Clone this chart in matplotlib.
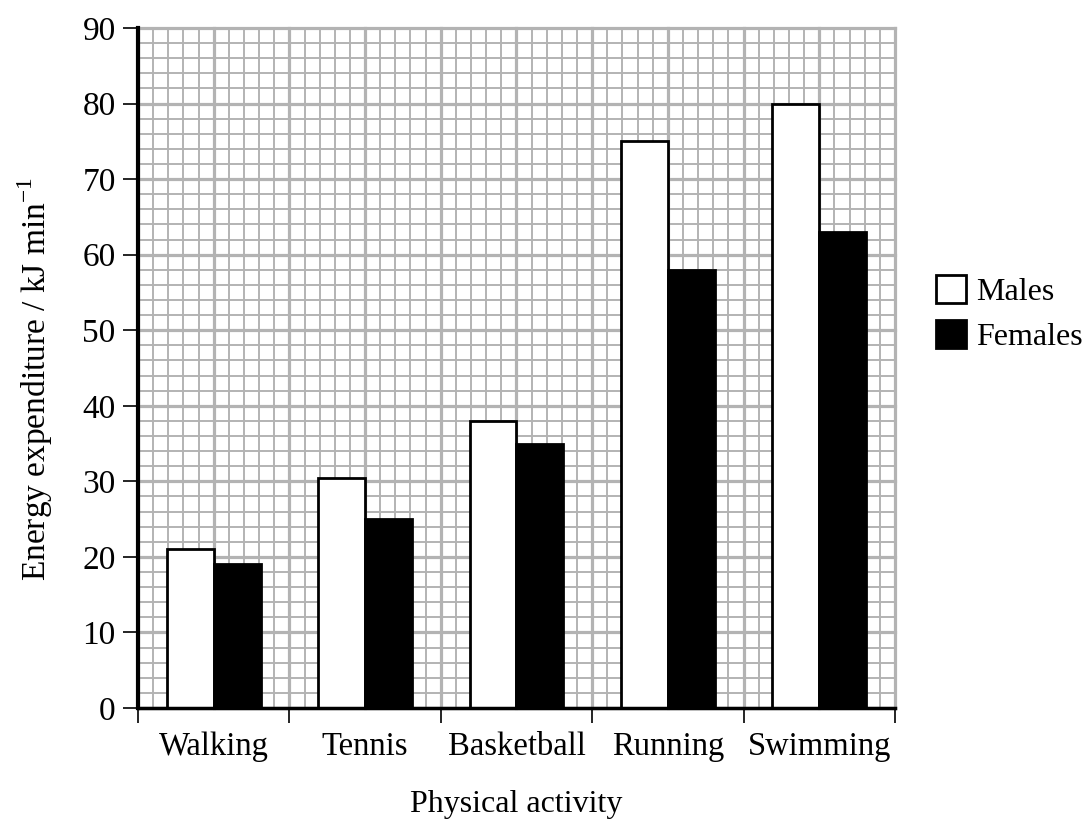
import numpy as np
import matplotlib.pyplot as plt
from matplotlib.patches import Patch

activities = ["Walking", "Tennis", "Basketball", "Running", "Swimming"]
males = [21, 30.5, 38, 75, 80]
females = [19, 25, 35, 58, 63]

plt.rcParams['font.family'] = ['Liberation Serif', 'DejaVu Serif']
plt.rcParams['mathtext.fontset'] = 'custom'
plt.rcParams['mathtext.rm'] = 'Liberation Serif'

fig = plt.figure(figsize=(10.88, 8.26), dpi=100)
ax = fig.add_axes([0.1268, 0.1429, 0.8226 - 0.1268, 0.9661 - 0.1429])

ax.set_xlim(-0.5, 4.5)
ax.set_ylim(0, 90)

grid_col = "#b3b3b3"
# graph-paper grid
for v in np.arange(-0.5, 4.51, 0.1):
    major = abs(v * 2 - round(v * 2)) < 1e-6
    ax.axvline(v, color=grid_col, lw=2.3 if major else 1.4, zorder=0, clip_on=False)
for v in range(0, 91, 2):
    ax.axhline(v, color=grid_col, lw=2.3 if v % 10 == 0 else 1.4, zorder=0, clip_on=False)

x = np.arange(len(activities))
w = 0.31
ax.bar(x - w / 2, males, w, color="white", edgecolor="black", linewidth=2, zorder=3)
ax.bar(x + w / 2, females, w, color="black", edgecolor="black", linewidth=2, zorder=3)

for side in ["top", "right"]:
    ax.spines[side].set_visible(False)
ax.spines["left"].set_linewidth(3)
ax.spines["bottom"].set_linewidth(2.5)
ax.spines["left"].set_zorder(5)
ax.spines["bottom"].set_zorder(5)

ax.set_yticks(range(0, 91, 10))
ax.tick_params(axis="y", length=11, width=1.2, pad=5, labelsize=24)
ax.set_xticks(np.arange(-0.5, 4.6, 1))
ax.set_xticklabels([])
ax.tick_params(axis="x", which="major", length=11, width=1.2)
ax.set_xticks(x, labels=activities, minor=True)
ax.tick_params(axis="x", which="minor", length=0, pad=17, labelsize=23.5)

ax.set_xlabel("Physical activity", fontsize=23, labelpad=20)
ax.set_ylabel("Energy expenditure / kJ min$^{-1}$", fontsize=24)
ax.yaxis.set_label_coords(-0.11, 0.484)

handles = [Patch(facecolor="white", edgecolor="black", linewidth=2),
           Patch(facecolor="black", edgecolor="black", linewidth=2)]
ax.legend(handles, ["Males", "Females"], loc="center left", bbox_to_anchor=(1.037, 0.58),
          frameon=False, fontsize=23, handlelength=0.95, handleheight=0.95,
          handletextpad=0.3, labelspacing=0.42, borderaxespad=0)

fig.savefig("out.png", dpi=100)
